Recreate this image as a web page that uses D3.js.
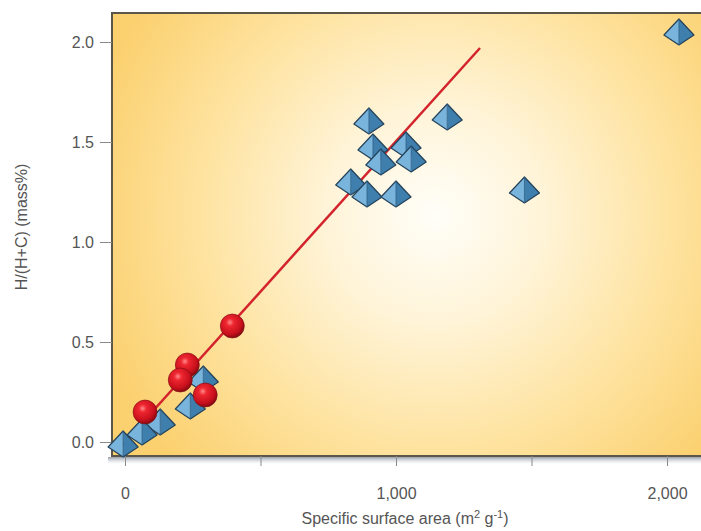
<!DOCTYPE html>
<html>
<head>
<meta charset="utf-8">
<script src="https://cdn.jsdelivr.net/npm/d3@7"></script>
<style>
  body { margin: 0; background: #fff; }
  svg { display: block; }
  text { font-family: "Liberation Sans Narrow", "Arial Narrow", "Liberation Sans", Arial, sans-serif; fill: #555; }
</style>
</head>
<body>
<div class="chart"></div>
<script>
// surface area (m2/g) vs H/(H+C) mass%
const pyramidX = [2044, 1474, 1189, 900, 915, 1037, 1056, 944, 833, 893, 1000, 289, 241, 130, 63, -7];
const pyramidY = [2.045, 1.255, 1.62, 1.60, 1.47, 1.48, 1.41, 1.395, 1.295, 1.235, 1.235, 0.31, 0.175, 0.095, 0.045, -0.015];
const sphereX = [396, 230, 204, 296, 74];
const sphereY = [0.58, 0.385, 0.31, 0.235, 0.15];
const fitX = [-20, 1310];
const fitY = [-0.03, 1.97];
const xTicks = [0, 500, 1000, 1500, 2000];
const xTickLabels = ['0', '', '1,000', '', '2,000'];
const yTicks = [0, 0.5, 1.0, 1.5, 2.0];

const width = 701;
const height = 531;
const box = { left: 112, top: 13, bottom: 456 };

const svg = d3
  .select('.chart')
  .append('svg')
  .attr('width', width)
  .attr('height', height);

const xScale = d3.scaleLinear().domain([0, 2000]).range([125, 667]);
const yScale = d3.scaleLinear().domain([0, 2]).range([442, 42]);

const defs = svg.append('defs');
const bg = defs
  .append('radialGradient')
  .attr('id', 'bg')
  .attr('gradientUnits', 'userSpaceOnUse')
  .attr('cx', 435)
  .attr('cy', 215)
  .attr('r', 360);
bg.append('stop').attr('offset', '0%').attr('stop-color', '#fffef8');
bg.append('stop').attr('offset', '30%').attr('stop-color', '#fff4d8');
bg.append('stop').attr('offset', '65%').attr('stop-color', '#fee3a0');
bg.append('stop').attr('offset', '100%').attr('stop-color', '#fbd06e');

const shade = defs
  .append('linearGradient')
  .attr('id', 'shade')
  .attr('x1', 0).attr('x2', 0).attr('y1', 0).attr('y2', 1);
shade.append('stop').attr('offset', '0%').attr('stop-color', '#7d8a96').attr('stop-opacity', 0.8);
shade.append('stop').attr('offset', '100%').attr('stop-color', '#c8d0d8').attr('stop-opacity', 0);

const ball = defs
  .append('radialGradient')
  .attr('id', 'ball')
  .attr('cx', '40%').attr('cy', '35%').attr('r', '65%');
ball.append('stop').attr('offset', '0%').attr('stop-color', '#ff8a8a');
ball.append('stop').attr('offset', '25%').attr('stop-color', '#ee2630');
ball.append('stop').attr('offset', '75%').attr('stop-color', '#c8101c');
ball.append('stop').attr('offset', '100%').attr('stop-color', '#8a0a12');

// plot background and frame
svg
  .append('rect')
  .attr('x', box.left)
  .attr('y', box.top)
  .attr('width', width - box.left + 5)
  .attr('height', box.bottom - box.top)
  .attr('fill', 'url(#bg)');
svg
  .append('rect')
  .attr('x', box.left - 4)
  .attr('y', box.bottom + 1)
  .attr('width', width - box.left + 4)
  .attr('height', 7)
  .attr('fill', 'url(#shade)');
svg
  .append('path')
  .attr('d', `M${width + 2},${box.top}H${box.left}V${box.bottom}H${width + 2}`)
  .attr('fill', 'none')
  .attr('stroke', '#5b5648')
  .attr('stroke-width', 2);

// axes
const xAxis = svg
  .append('g')
  .attr('transform', `translate(0, ${box.bottom})`)
  .call(
    d3
      .axisBottom(xScale)
      .tickValues(xTicks)
      .tickSize(10)
      .tickPadding(22)
      .tickFormat((d, i) => xTickLabels[i]),
  );
xAxis.select('.domain').remove();
xAxis.selectAll('line').attr('stroke', '#8a8a8a');
xAxis.selectAll('text').attr('font-size', 16).attr('fill', '#555');

const yAxis = svg
  .append('g')
  .attr('transform', `translate(${box.left}, 0)`)
  .call(
    d3
      .axisLeft(yScale)
      .tickValues(yTicks)
      .tickSize(12)
      .tickPadding(6)
      .tickFormat(d3.format('.1f')),
  );
yAxis.select('.domain').remove();
yAxis.selectAll('line').attr('stroke', '#8a8a8a');
yAxis.selectAll('text').attr('font-size', 16).attr('fill', '#555');

svg
  .append('text')
  .attr('x', 405)
  .attr('y', 524)
  .attr('text-anchor', 'middle')
  .attr('font-size', 16)
  .html('Specific surface area (m<tspan font-size="11" dy="-6">2</tspan><tspan dy="6"> g</tspan><tspan font-size="11" dy="-6">-1</tspan><tspan dy="6">)</tspan>');
svg
  .append('text')
  .attr('transform', 'translate(27, 227) rotate(-90)')
  .attr('text-anchor', 'middle')
  .attr('font-size', 16)
  .text('H/(H+C) (mass%)');

// fit line
svg
  .append('line')
  .attr('x1', xScale(fitX[0]))
  .attr('y1', yScale(fitY[0]))
  .attr('x2', xScale(fitX[1]))
  .attr('y2', yScale(fitY[1]))
  .attr('stroke', '#d3232c')
  .attr('stroke-width', 2.5);

// pyramids
const pyramids = svg
  .selectAll('g.pyr')
  .data(pyramidX.map((x, i) => ({ x, y: pyramidY[i] })))
  .enter()
  .append('g')
  .attr('class', 'pyr')
  .attr('transform', d => `translate(${xScale(d.x)}, ${yScale(d.y)})`);
pyramids
  .append('path')
  .attr('d', 'M0,-14L-15,2L0,12Z')
  .attr('fill', '#79b4dc');
pyramids
  .append('path')
  .attr('d', 'M0,-14L15,2L0,12Z')
  .attr('fill', '#3f7fae');
pyramids
  .append('path')
  .attr('d', 'M0,-14L-15,2L0,12L15,2Z')
  .attr('fill', 'none')
  .attr('stroke', '#24425a')
  .attr('stroke-width', 1.2)
  .attr('stroke-linejoin', 'round');
pyramids
  .append('path')
  .attr('d', 'M0,-14L0,12')
  .attr('stroke', '#2f5f86')
  .attr('stroke-width', 0.8);

// spheres
svg
  .selectAll('circle.ball')
  .data(sphereX.map((x, i) => ({ x, y: sphereY[i] })))
  .enter()
  .append('circle')
  .attr('class', 'ball')
  .attr('cx', d => xScale(d.x))
  .attr('cy', d => yScale(d.y))
  .attr('r', 12)
  .attr('fill', 'url(#ball)')
  .attr('stroke', '#7a0c10')
  .attr('stroke-width', 0.6);
</script>
</body>
</html>
